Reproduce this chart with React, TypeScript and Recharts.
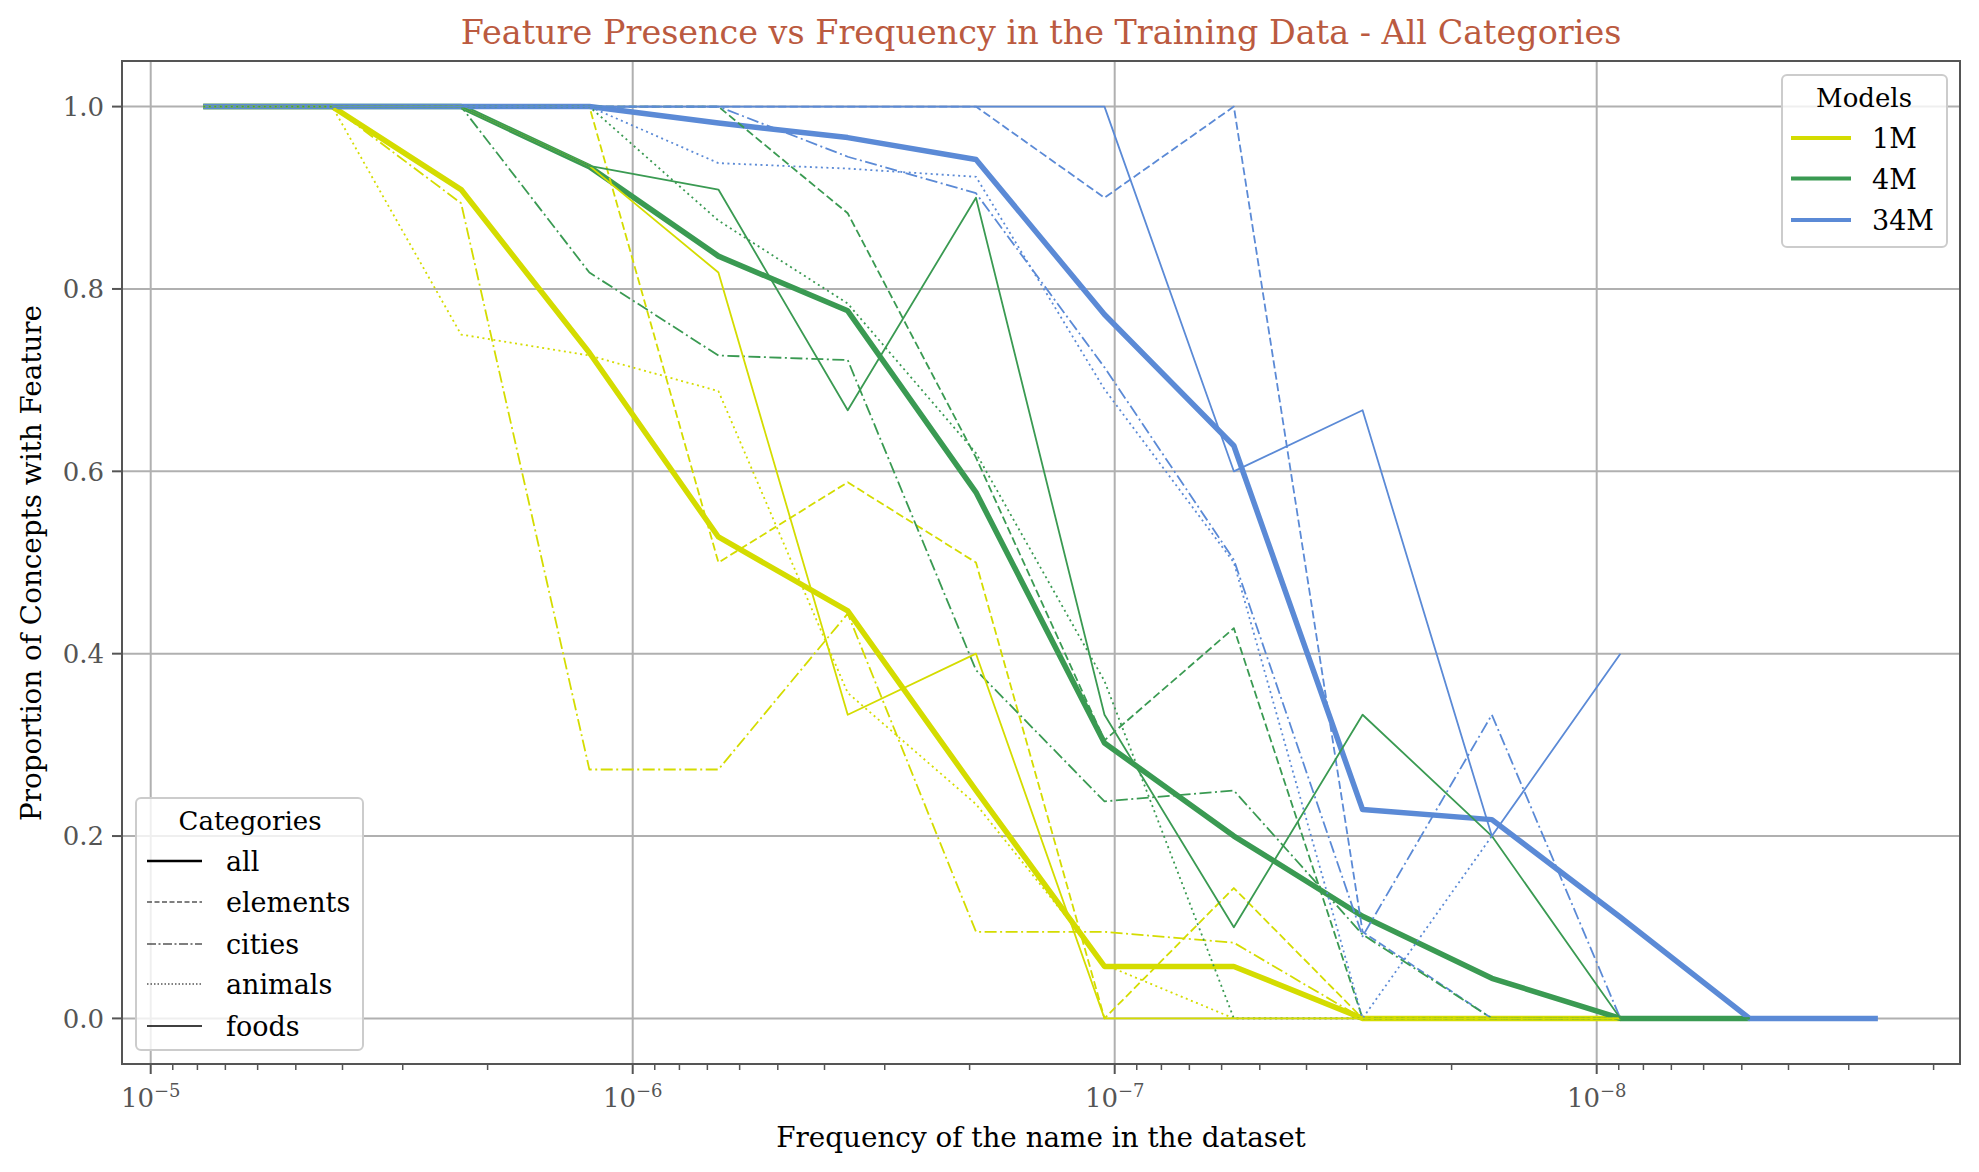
import React from 'react';
import { LineChart, Line, XAxis, YAxis, CartesianGrid, ReferenceLine } from 'recharts';

// bin centres of the name frequency (log spaced)
const frequencies = [
  7.78e-6, 4.2e-6, 2.27e-6, 1.23e-6, 6.64e-7, 3.58e-7, 1.94e-7,
  1.05e-7, 5.66e-8, 3.06e-8, 1.65e-8, 8.93e-9, 4.82e-9, 2.61e-9,
];

const models = ['1M', '4M', '34M'];
const modelColors = ['#d4dc00', '#3a9a52', '#5b8ad6'];
const categories = ['all', 'elements', 'cities', 'animals', 'foods'];

// 1M model
const m1All = [1, 1, 0.909, 0.73, 0.528, 0.447, 0.25, 0.057, 0.057, 0, 0, 0, null, null];
const m1Elements = [1, 1, 1, 1, 0.5, 0.588, 0.5, 0, 0.143, 0, 0, 0, null, null];
const m1Cities = [1, 1, 0.894, 0.273, 0.273, 0.444, 0.095, 0.095, 0.083, 0, 0, 0, null, null];
const m1Animals = [1, 1, 0.75, 0.727, 0.688, 0.357, 0.235, 0.059, 0, 0, 0, 0, null, null];
const m1Foods = [null, 1, 1, 0.935, 0.818, 0.333, 0.4, 0, 0, 0, 0, 0, null, null];

// 4M model
const m4All = [1, 1, 1, 0.934, 0.836, 0.776, 0.577, 0.302, 0.2, 0.112, 0.044, 0, 0, null];
const m4Elements = [1, 1, 1, 1, 1, 0.883, 0.615, 0.305, 0.428, 0, 0, 0, 0, null];
const m4Cities = [1, 1, 1, 0.818, 0.727, 0.722, 0.382, 0.238, 0.25, 0.092, 0, 0, 0, null];
const m4Animals = [1, 1, 1, 1, 0.875, 0.784, 0.62, 0.37, 0, 0, 0, 0, 0, null];
const m4Foods = [null, 1, 1, 0.935, 0.909, 0.667, 0.9, 0.333, 0.1, 0.333, 0.2, 0, 0, null];

// 34M model
const m34All = [1, 1, 1, 1, 0.982, 0.966, 0.942, 0.772, 0.628, 0.229, 0.218, 0.111, 0, 0];
const m34Elements = [1, 1, 1, 1, 1, 1, 1, 0.9, 1, 0.095, 0, null, null, null];
const m34Cities = [1, 1, 1, 1, 1, 0.945, 0.905, 0.714, 0.503, 0.09, 0.333, 0, null, null];
const m34Animals = [null, 1, 1, 1, 0.938, 0.932, 0.923, 0.69, 0.5, 0, 0.2, null, null, null];
const m34Foods = [null, 1, 1, 1, 1, 1, 1, 1, 0.6, 0.667, 0.2, 0.4, null, null];

const seriesValues: Record<string, (number | null)[]> = {
  '1M_all': m1All, '1M_elements': m1Elements, '1M_cities': m1Cities, '1M_animals': m1Animals, '1M_foods': m1Foods,
  '4M_all': m4All, '4M_elements': m4Elements, '4M_cities': m4Cities, '4M_animals': m4Animals, '4M_foods': m4Foods,
  '34M_all': m34All, '34M_elements': m34Elements, '34M_cities': m34Cities, '34M_animals': m34Animals, '34M_foods': m34Foods,
};

const yTicks = [0, 0.2, 0.4, 0.6, 0.8, 1.0];
const xMajorTicks = [1e-5, 1e-6, 1e-7, 1e-8];

const SERIF = '"DejaVu Serif", serif';
const W = 1979;
const H = 1172;
const PLOT = { left: 122, top: 61, right: 1960, bottom: 1064 };
const Y_AXIS_W = 100;
const X_AXIS_H = 60;
const X_DOMAIN = [1.763e-9, 1.147e-5];
const GRID = '#b0b0b0';
const AXIS = '#555555';

// line style per category
const catStyle: Record<string, { width: number; dash?: string }> = {
  all: { width: 5.5 },
  elements: { width: 1.8, dash: '8 3.5' },
  cities: { width: 1.8, dash: '12 3.5 2 3.5' },
  animals: { width: 1.8, dash: '2 3.5' },
  foods: { width: 1.8 },
};
const legendStyle: Record<string, { width: number; dash?: string }> = {
  all: { width: 2.6 },
  elements: { width: 1.1, dash: '5 2.5' },
  cities: { width: 1.1, dash: '9 2.5 2 2.5' },
  animals: { width: 1.1, dash: '1.5 2' },
  foods: { width: 1.5 },
};

// minor ticks on the log axis
const xMinorTicks: number[] = [];
for (let d = -9; d <= -5; d++) {
  for (let k = 2; k <= 9; k++) {
    const v = k * Math.pow(10, d);
    if (v > X_DOMAIN[0] && v < X_DOMAIN[1]) xMinorTicks.push(v);
  }
}
const xTicks = [...xMajorTicks, ...xMinorTicks].sort((a, b) => b - a);

const rows = frequencies.map((f, i) => {
  const row: Record<string, number | null> = { freq: f };
  Object.keys(seriesValues).forEach((k) => {
    row[k] = seriesValues[k][i];
  });
  return row;
});

const XTick = (props: any) => {
  const { x, y, payload } = props;
  const exp = Math.log10(payload.value);
  const major = Math.abs(exp - Math.round(exp)) < 1e-6;
  return (
    <g>
      <line x1={x} x2={x} y1={y} y2={y + (major ? 10 : 6)} stroke={AXIS} strokeWidth={major ? 2 : 1.5} />
      {major && (
        <text x={x} y={y + 43} textAnchor="middle" fill={AXIS} fontFamily={SERIF} fontSize={26}>
          10
          <tspan dy={-10} fontSize={18}>{'\u2212' + Math.abs(Math.round(exp))}</tspan>
        </text>
      )}
    </g>
  );
};

const App: React.FC = () => {
  const modelRows = [138, 178.5, 220];
  const catRows = [861, 902, 944, 984, 1026];

  return (
    <div style={{ position: 'fixed', left: 0, top: 0, width: W, height: H, background: '#fff' }}>
      <LineChart
        width={W}
        height={H}
        data={rows}
        margin={{
          top: PLOT.top,
          right: W - PLOT.right,
          left: PLOT.left - Y_AXIS_W,
          bottom: H - PLOT.bottom - X_AXIS_H,
        }}
      >
        <CartesianGrid vertical={false} stroke={GRID} strokeWidth={2} />
        {xMajorTicks.map((t) => (
          <ReferenceLine key={t} x={t} stroke={GRID} strokeWidth={2} ifOverflow="hidden" />
        ))}
        <XAxis
          dataKey="freq"
          type="number"
          scale="log"
          domain={X_DOMAIN}
          allowDataOverflow
          reversed
          ticks={xTicks}
          interval={0}
          tick={(p: any) => <XTick {...p} />}
          tickLine={false}
          axisLine={false}
          tickSize={0}
          tickMargin={0}
          height={X_AXIS_H}
        />
        <YAxis
          type="number"
          domain={[-0.05, 1.05]}
          allowDataOverflow
          ticks={yTicks}
          tickFormatter={(v: number) => v.toFixed(1)}
          width={Y_AXIS_W}
          tickSize={10}
          tickMargin={8}
          tick={{ fill: AXIS, fontSize: 26, fontFamily: SERIF }}
          tickLine={{ stroke: AXIS, strokeWidth: 2 }}
          axisLine={false}
        />
        {categories.map((c) =>
          models.map((m, mi) => (
            <Line
              key={`${m}_${c}`}
              dataKey={`${m}_${c}`}
              type="linear"
              stroke={modelColors[mi]}
              strokeWidth={catStyle[c].width}
              strokeDasharray={catStyle[c].dash}
              strokeLinejoin="round"
              dot={false}
              activeDot={false}
              isAnimationActive={false}
              connectNulls={false}
            />
          ))
        )}
      </LineChart>

      <svg width={W} height={H} style={{ position: 'absolute', left: 0, top: 0, pointerEvents: 'none' }}>
        <rect
          x={PLOT.left}
          y={PLOT.top}
          width={PLOT.right - PLOT.left}
          height={PLOT.bottom - PLOT.top}
          fill="none"
          stroke={AXIS}
          strokeWidth={2}
        />
        <text x={1041} y={44} textAnchor="middle" fill="#bb5a40" fontFamily={SERIF} fontSize={33.4}>
          Feature Presence vs Frequency in the Training Data - All Categories
        </text>
        <text x={1041} y={1147} textAnchor="middle" fill="#000" fontFamily={SERIF} fontSize={27.8}>
          Frequency of the name in the dataset
        </text>
        <text
          x={41}
          y={563}
          textAnchor="middle"
          fill="#000"
          fontFamily={SERIF}
          fontSize={27.8}
          transform="rotate(-90 41 563)"
        >
          Proportion of Concepts with Feature
        </text>

        {/* Models legend */}
        <rect x={1782} y={75} width={165} height={172} rx={5} fill="#fff" fillOpacity={0.8} stroke="#cccccc" strokeWidth={2} />
        <text x={1864} y={107} textAnchor="middle" fill="#000" fontFamily={SERIF} fontSize={26}>
          Models
        </text>
        {models.map((m, i) => (
          <g key={m}>
            <line x1={1791} x2={1851} y1={modelRows[i]} y2={modelRows[i]} stroke={modelColors[i]} strokeWidth={4} />
            <text x={1872} y={modelRows[i] + 10} fill="#000" fontFamily={SERIF} fontSize={27}>
              {m}
            </text>
          </g>
        ))}

        {/* Categories legend */}
        <rect x={136} y={798} width={227} height={252} rx={5} fill="#fff" fillOpacity={0.8} stroke="#cccccc" strokeWidth={2} />
        <text x={250} y={830} textAnchor="middle" fill="#000" fontFamily={SERIF} fontSize={26}>
          Categories
        </text>
        {categories.map((c, i) => (
          <g key={c}>
            <line
              x1={147}
              x2={202}
              y1={catRows[i]}
              y2={catRows[i]}
              stroke="#000"
              strokeWidth={legendStyle[c].width}
              strokeDasharray={legendStyle[c].dash}
            />
            <text x={226} y={catRows[i] + 10} fill="#000" fontFamily={SERIF} fontSize={27}>
              {c}
            </text>
          </g>
        ))}
      </svg>
    </div>
  );
};

export default App;
